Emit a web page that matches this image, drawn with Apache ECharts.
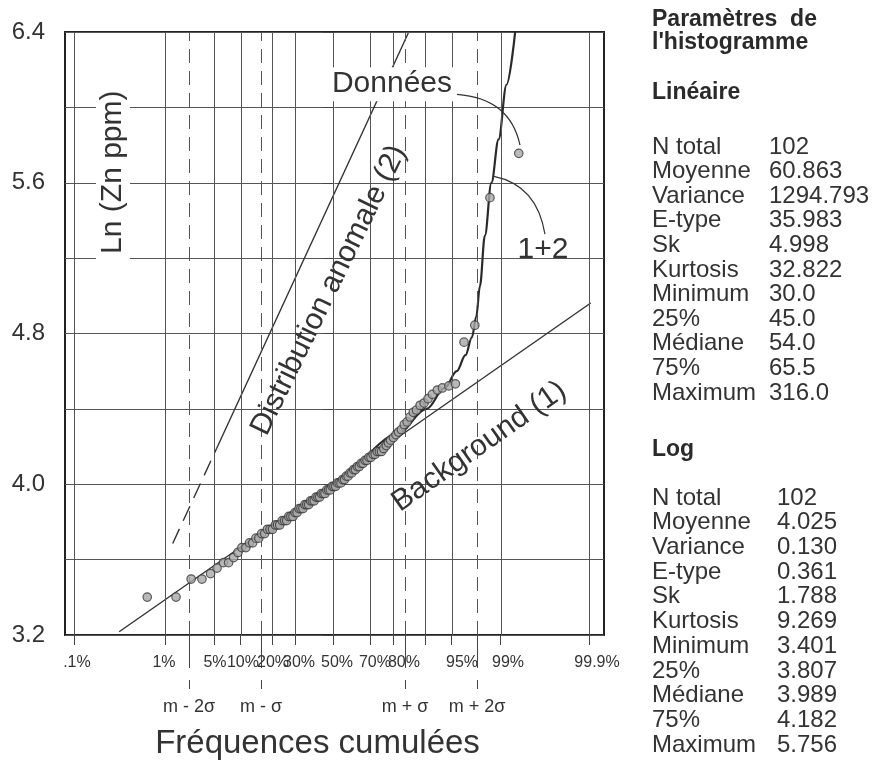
<!DOCTYPE html>
<html><head><meta charset="utf-8">
<script src="https://cdn.jsdelivr.net/npm/echarts@6/dist/echarts.min.js"></script>
<style>html,body{margin:0;padding:0;background:#fff}#c{width:890px;height:765px}</style>
</head><body><div id="c"></div>
<script>
// ---- data ----
// normal scores (probability-axis position) of the ranked samples
const probit = [-2.58,-2.18,-1.97,-1.82,-1.70,-1.61,-1.52,-1.45,-1.38,-1.32,
 -1.265,-1.21,-1.16,-1.115,-1.07,-1.03,-0.99,-0.95,-0.91,-0.875,
 -0.84,-0.80,-0.77,-0.74,-0.705,-0.674,-0.644,-0.614,-0.585,-0.556,
 -0.527,-0.499,-0.472,-0.445,-0.417,-0.391,-0.365,-0.338,-0.312,-0.287,
 -0.261,-0.236,-0.21,-0.185,-0.16,-0.135,-0.111,-0.086,-0.061,-0.037,
 -0.012,0.012,0.037,0.061,0.086,0.111,0.135,0.16,0.185,0.21,
 0.236,0.261,0.287,0.312,0.338,0.365,0.391,0.417,0.445,0.472,
 0.499,0.527,0.556,0.585,0.614,0.644,0.674,0.705,0.74,0.77,
 0.80,0.84,0.875,0.91,0.95,0.99,1.03,1.07,1.115,1.16,
 1.21,1.265,1.32,1.38,1.45,1.52,1.61,1.70,1.82,1.97,
 2.18,2.58];
const lnZn = [3.401,3.401,3.497,3.497,3.526,3.555,3.584,3.584,3.611,3.638,
 3.664,3.664,3.689,3.689,3.714,3.714,3.738,3.738,3.761,3.761,
 3.761,3.784,3.784,3.784,3.807,3.807,3.807,3.829,3.829,3.829,
 3.850,3.850,3.871,3.871,3.871,3.892,3.892,3.892,3.912,3.912,
 3.912,3.932,3.932,3.932,3.951,3.951,3.951,3.970,3.970,3.970,
 3.989,3.989,3.989,4.007,4.007,4.007,4.025,4.025,4.043,4.043,
 4.060,4.060,4.078,4.078,4.094,4.094,4.111,4.111,4.127,4.127,
 4.143,4.143,4.159,4.159,4.174,4.174,4.174,4.190,4.205,4.220,
 4.234,4.248,4.263,4.277,4.290,4.317,4.331,4.357,4.382,4.394,
 4.419,4.431,4.454,4.477,4.500,4.511,4.522,4.533,4.754,4.844,
 5.521,5.756];

const backgroundLine = [[-2.97,3.217],[3.58,4.962]];
const anomalDashed = [[-2.226,3.686],[-1.615,4.191]];
const anomalSolid = [[-1.615,4.191],[1.046,6.395]];
const mixCurve = [[0.5,4.16],[0.9,4.27],[1.3,4.40],[1.55,4.51],
 [1.72,4.60],[1.84,4.685],[1.93,4.78],[1.99,4.89],[2.04,5.05],[2.11,5.32],[2.20,5.60],
 [2.30,5.83],[2.41,6.12],[2.53,6.40]];

// probability axis: grid/tick positions and (slightly offset) label positions
const tickZ = [-3.6,-2.326,-1.645,-1.282,-0.842,-0.524,0,0.524,0.842,1.282,1.645,2.326,3.56];
const labelZ = [-3.556,-2.347,-1.639,-1.25,-0.833,-0.472,0.056,0.583,0.986,1.792,2.431,3.667];
const tickLabels = ['.1%','1%','5%','10%','20%','30%','50%','70%','80%','95%','99%','99.9%'];
const sigmaZ = [-2,-1,1,2];
const sigmaLabels = ['m - 2σ','m - σ','m + σ','m + 2σ'];
const yMin = 3.2, yMax = 6.4, yStep = 0.4, yLabelStep = 0.8;

// annotations [z, ln]
const annotations = [
 {text:'Ln (Zn ppm)', at:[-3.056,5.656], angle:90, bg:true},
 {text:'Données', at:[0.819,6.123], angle:0, bg:true},
 {text:'1+2', at:[2.917,5.247], angle:0, bg:false},
 {text:'Distribution anomale (2)', at:[-0.056,5.03], angle:64, bg:false},
 {text:'Background (1)', at:[2.03,4.20], angle:35, bg:false}
];
const leaders = [
 [[1.722,6.069],[2.458,6.048],[2.597,5.80]],
 [[2.236,5.634],[2.833,5.587],[2.944,5.327]]
];

// statistics panel
const statNames = ['N total','Moyenne','Variance','E-type','Sk','Kurtosis','Minimum','25%','Médiane','75%','Maximum'];
const linValues = ['102','60.863','1294.793','35.983','4.998','32.822','30.0','45.0','54.0','65.5','316.0'];
const logValues = ['102','4.025','0.130','0.361','1.788','9.269','3.401','3.807','3.989','4.182','5.756'];

// ---- chart ----
const FONT = '"Liberation Sans", Arial, Helvetica, sans-serif';
const INK = '#333';
const chart = echarts.init(document.getElementById('c'));
const xMin = -3.722, xMax = 3.764;
function nearestLabel(v){
  let best = 0, d = 1e9;
  labelZ.forEach((z,i)=>{ if (Math.abs(z-v) < d){ d = Math.abs(z-v); best = i; } });
  return tickLabels[best];
}
function nearestSigma(v){
  let best = 0, d = 1e9;
  sigmaZ.forEach((z,i)=>{ if (Math.abs(z-v) < d){ d = Math.abs(z-v); best = i; } });
  return sigmaLabels[best];
}
const option = {
  animation: false,
  backgroundColor: '#fff',
  grid: {left: 65, top: 32, width: 539, height: 603, show: true, borderColor: '#222', borderWidth: 2,
         backgroundColor: 'transparent', containLabel: false, outerBoundsMode: 'none'},
  xAxis: [
    {type:'value', min:xMin, max:xMax, position:'bottom',
     axisLine:{show:false}, splitLine:{show:false},
     axisTick:{show:true, customValues: tickZ, length:10, lineStyle:{color:'#444', width:1}},
     axisLabel:{show:true, customValues: labelZ, margin:20, fontSize:16, fontFamily:FONT, color:INK,
       formatter: v => nearestLabel(v)}},
    {type:'value', min:xMin, max:xMax, position:'bottom', offset:45,
     axisLine:{show:false}, splitLine:{show:false},
     axisTick:{show:true, customValues: sigmaZ, length:9, lineStyle:{color:'#444', width:1}},
     axisLabel:{show:true, customValues: sigmaZ, margin:18, fontSize:18, fontFamily:FONT, color:INK,
       formatter: v => nearestSigma(v)},
     name:'Fréquences cumulées', nameLocation:'middle', nameGap:47,
     nameTextStyle:{fontSize:33, fontFamily:FONT, color:INK, padding:[0,34,0,0]}},
    {type:'value', min:xMin, max:xMax, position:'bottom', offset:0,
     axisLine:{show:false}, splitLine:{show:false}, axisLabel:{show:false},
     axisTick:{show:true, customValues: sigmaZ, length:33, lineStyle:{color:'#444', width:1}}}
  ],
  yAxis: {type:'value', min:yMin, max:yMax, interval:yStep,
    axisLine:{show:false},
    axisTick:{show:true, length:10, lineStyle:{color:'#444'}},
    splitLine:{show:true, lineStyle:{color:'#555', width:1}},
    axisLabel:{margin:20, fontSize:24, fontFamily:FONT, color:INK,
      formatter: v => { const k = (v - yMin)/yLabelStep; return Math.abs(k - Math.round(k)) < 1e-6 ? v.toFixed(1) : ''; }}},
  series: [
    {type:'line', name:'grid', data:[], z:1, silent:true,
     markLine:{silent:true, symbol:['none','none'], label:{show:false}, animation:false,
       lineStyle:{color:'#555', width:1, type:'solid'},
       data: tickZ.map(v=>({xAxis:v})).concat(sigmaZ.map(v=>({xAxis:v, lineStyle:{color:'#555', width:1, type:[14,8]}})))}},
    {type:'line', name:'Background (1)', data:backgroundLine, symbol:'none', z:3,
     lineStyle:{color:INK, width:1.4}},
    {type:'line', name:'anomal dashed', data:anomalDashed, symbol:'none', z:3,
     lineStyle:{color:INK, width:1.4, type:[16,9]}},
    {type:'line', name:'Distribution anomale (2)', data:anomalSolid, symbol:'none', z:3,
     lineStyle:{color:INK, width:1.4}},
    {type:'line', name:'1+2', data:mixCurve, symbol:'none', smooth:0.35, smoothMonotone:'x', z:4,
     lineStyle:{color:'#2a2a2a', width:2.2}},
    {type:'scatter', name:'Données', data:probit.map((z,i)=>[z, lnZn[i]]), z:5,
     symbolSize:8.5, itemStyle:{color:'#a8a8a8', borderColor:'#3a3a3a', borderWidth:1.2}}
  ]
};
chart.setOption(option);

const P = pt => chart.convertToPixel({gridIndex:0}, pt);
const g = [];
annotations.forEach(a => {
  const p = P(a.at);
  const st = {text:a.text, font:'30px ' + FONT, fill:INK, align:'center', verticalAlign:'middle',
              textAlign:'center', textVerticalAlign:'middle'};
  if (a.bg){ st.backgroundColor = '#fff'; st.padding = [2,5]; }
  g.push({type:'text', x:p[0], y:p[1], rotation:a.angle*Math.PI/180, z:20, style:st});
});
leaders.forEach(L => {
  const a = P(L[0]), c = P(L[1]), b = P(L[2]);
  g.push({type:'bezierCurve', z:19, shape:{x1:a[0], y1:a[1], cpx1:c[0], cpy1:c[1], x2:b[0], y2:b[1]},
          style:{stroke:INK, lineWidth:1.2, fill:null}});
});
const px = 652, vx1 = 769, vx2 = 777;
const hdr = (t, x, y) => g.push({type:'text', x, y, style:{text:t, font:'bold 23px ' + FONT, fill:'#2a2a2a', verticalAlign:'middle', textVerticalAlign:'middle'}});
const txt = (t, x, y) => g.push({type:'text', x, y, style:{text:t, font:'24px ' + FONT, fill:INK, verticalAlign:'middle', textVerticalAlign:'middle'}});
hdr('Paramètres  de', px, 20);
hdr("l'histogramme", px, 43);
hdr('Linéaire', px, 93);
statNames.forEach((n,i) => { txt(n, px, 147 + i*24.6); txt(linValues[i], vx1, 147 + i*24.6); });
hdr('Log', px, 450);
statNames.forEach((n,i) => { txt(n, px, 498 + i*24.7); txt(logValues[i], vx2, 498 + i*24.7); });
chart.setOption({graphic: g});
</script>
</body></html>
